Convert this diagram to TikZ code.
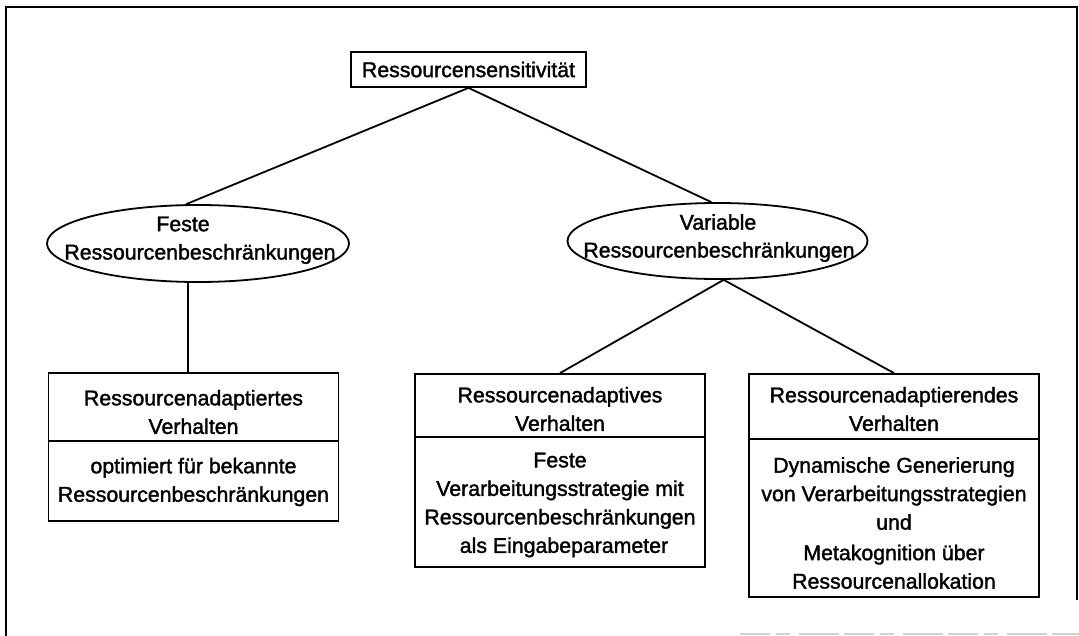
\documentclass[tikz,border=0pt]{standalone}
\usepackage{fontspec}
\newfontfamily\diagfont{Liberation Sans}[FakeBold=1.6]
\usetikzlibrary{shapes.geometric}
\begin{document}
\begin{tikzpicture}[x=1pt,y=-1pt,
  every node/.style={font=\diagfont\fontsize{21.3}{28.5}\selectfont},
  edge/.style={line width=1.8pt},
  titlebox/.style={draw, line width=1.8pt, inner xsep=11pt, minimum height=35pt},
  oval/.style={draw, ellipse, line width=1.8pt, minimum width=302pt, minimum height=77pt, inner sep=0pt},
  panel/.style={draw, line width=1.8pt, minimum width=290pt, inner sep=0pt},
  txt/.style={align=center, inner sep=0pt, anchor=center}]
\useasboundingbox (0,0) rectangle (1079,636);
% outer frame
\draw[line width=1.8pt] (6,636) -- (6,7) -- (1077,7) -- (1077,600);
\draw[gray!35, line width=1.2pt, dash pattern=on 30pt off 6pt on 14pt off 9pt on 40pt off 5pt] (740,634) -- (1079,634);

% root
\node[titlebox] (root) at (468.5,69.5) {Ressourcensensitivität};

% second level
\node[oval] (lell) at (198,243.5) {};
\node[txt] (lellA) at (183,224) {Feste};
\node[txt] (lellB) at (200,254) {Ressourcenbeschränkungen};
\node[oval, minimum width=300pt, minimum height=76pt] (rell) at (717.5,241) {};
\node[txt] (rellA) at (718,222) {Variable};
\node[txt] (rellB) at (719,252) {Ressourcenbeschränkungen};

% third level boxes
\node[panel, minimum height=148pt] (lbox) at (193.5,447) {};
\draw[line width=1.8pt] (lbox.west |- 0,441) -- (lbox.east |- 0,441);
\node[txt] (lboxH) at (193.5,412) {Ressourcenadaptiertes\\Verhalten};
\node[txt] (lboxB) at (193.5,482) {optimiert für bekannte\\Ressourcenbeschränkungen};

\node[panel, minimum height=193pt] (mbox) at (560,470.5) {};
\draw[line width=1.8pt] (mbox.west |- 0,437) -- (mbox.east |- 0,437);
\node[txt] (mboxH) at (560,409) {Ressourcenadaptives\\Verhalten};
\node[txt] (mboxB) at (560,505) {Feste\\Verarbeitungsstrategie mit\\Ressourcenbeschränkungen\\\hspace*{8pt}als Eingabeparameter};

\node[panel, minimum height=223pt] (rbox) at (894,485.5) {};
\draw[line width=1.8pt] (rbox.west |- 0,439) -- (rbox.east |- 0,439);
\node[txt] (rboxH) at (894,409) {Ressourcenadaptierendes\\Verhalten};
\node[txt] (rboxB) at (894,523) {Dynamische Generierung\\von Verarbeitungsstrategien\\und\\[2pt]Metakognition über\\Ressourcenallokation};

% connectors
\draw[edge] (root.south) -- (lell.107);
\draw[edge] (root.south) -- (rell.99);
\draw[edge] (lell.-104) -- (lell.-104 |- lbox.north);
\draw[edge] (rell.-81) -- (mbox.north);
\draw[edge] (rell.-81) -- (rbox.north);
\end{tikzpicture}
\end{document}
